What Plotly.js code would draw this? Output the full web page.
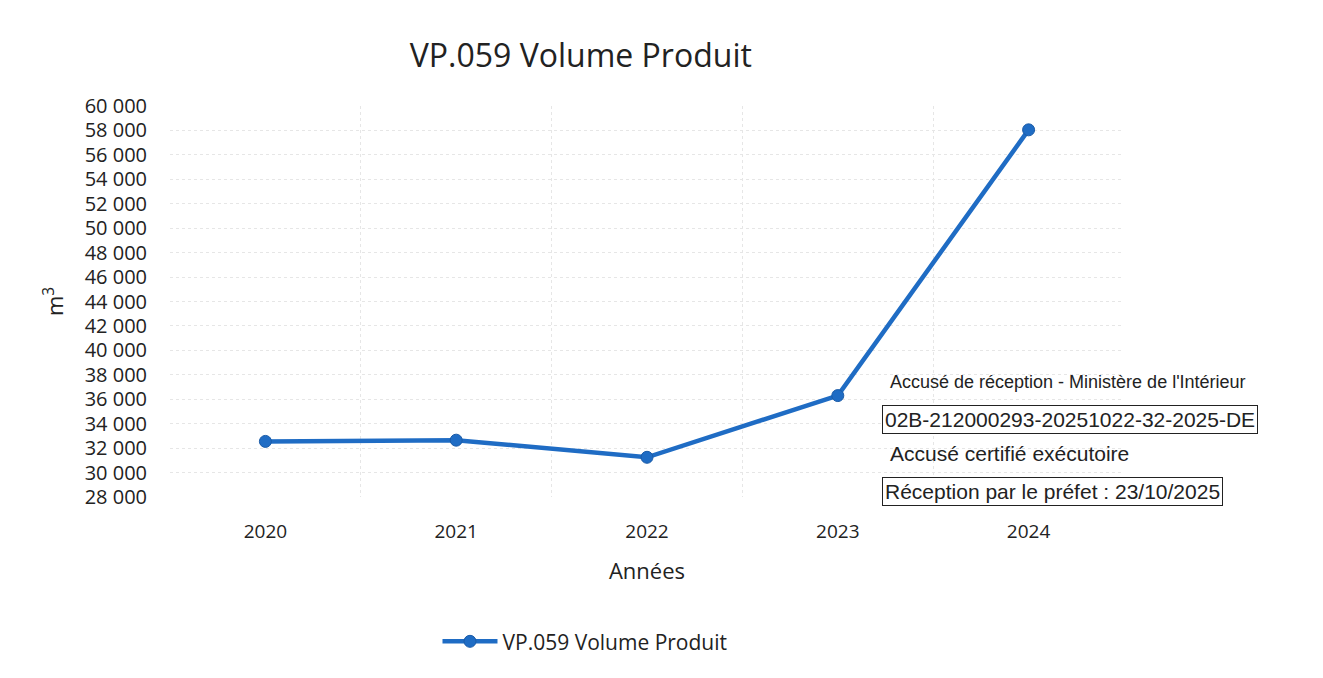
<!DOCTYPE html>
<html>
<head>
<meta charset="utf-8">
<script src="https://cdn.plot.ly/plotly-3.0.1.min.js"></script>
<style>body{margin:0;background:#fff}</style>
</head>
<body>
<div id="myDiv" style="width:1323px;height:678px"></div>
<script>
var years = ['2020', '2021', '2022', '2023', '2024'];
var volume = [32550, 32650, 31250, 36300, 58050];
var seriesName = 'VP.059 Volume Produit';

var blue = '#1f6cc4';

var trace = {
    x: years,
    y: volume,
    type: 'scatter',
    mode: 'lines+markers',
    name: seriesName,
    line: {color: blue, width: 4.5},
    marker: {size: 12, color: blue, line: {color: '#1a5ba8', width: 1}}
};

// the first stamp line is narrower in the scan
var stampSmall = {family: 'Liberation Sans, Arial, sans-serif', size: 18, color: '#222'};
var stampBig = {family: 'Liberation Sans, Arial, sans-serif', size: 21, color: '#222'};

var layout = {
    width: 1323,
    height: 678,
    margin: {l: 170, r: 199, t: 106, b: 181},
    paper_bgcolor: '#fff',
    plot_bgcolor: '#fff',
    separators: ', ',
    font: {family: 'Open Sans, sans-serif', color: '#222'},
    title: {text: 'VP.059 Volume Produit', font: {size: 32, color: '#222'}, x: 0.439, xanchor: 'center', y: 0.918, yanchor: 'middle'},
    xaxis: {
        type: 'category',
        range: [-0.5, 4.5],
        tickson: 'boundaries',
        showgrid: true,
        gridcolor: '#e6e6e6',
        griddash: 'dot',
        zeroline: false,
        showline: false,
        ticks: '',
        ticklabelstandoff: 21,
        tickfont: {size: 19},
        title: {text: 'Années', font: {size: 22}, standoff: 20}
    },
    yaxis: {
        range: [28000, 60000],
        dtick: 2000,
        tickformat: ',',
        showgrid: true,
        gridcolor: '#e6e6e6',
        griddash: 'dot',
        zeroline: false,
        showline: false,
        ticks: 'outside',
        ticklen: 18,
        tickcolor: 'rgba(0,0,0,0)',
        tickfont: {size: 20},
        title: {text: 'm<sup>3</sup>', font: {size: 22}, standoff: 14}
    },
    showlegend: true,
    legend: {
        orientation: 'h',
        x: 0.435, xanchor: 'center',
        y: -0.37, yanchor: 'middle',
        itemwidth: 55,
        font: {size: 21}
    },
    annotations: [
        {text: "Accusé de réception - Ministère de l'Intérieur", xref: 'paper', yref: 'paper', x: 0.753, y: 0.294, xanchor: 'left', yanchor: 'middle', showarrow: false, font: stampSmall},
        {text: '02B-212000293-20251022-32-2025-DE', xref: 'paper', yref: 'paper', x: 0.746, y: 0.197, xanchor: 'left', yanchor: 'middle', showarrow: false, font: stampBig, bordercolor: '#222', borderwidth: 1, borderpad: 2, bgcolor: '#fff'},
        {text: 'Accusé certifié exécutoire', xref: 'paper', yref: 'paper', x: 0.753, y: 0.110, xanchor: 'left', yanchor: 'middle', showarrow: false, font: stampBig},
        {text: 'Réception par le préfet : 23/10/2025', xref: 'paper', yref: 'paper', x: 0.746, y: 0.013, xanchor: 'left', yanchor: 'middle', showarrow: false, font: stampBig, bordercolor: '#222', borderwidth: 1, borderpad: 2, bgcolor: '#fff'}
    ]
};

Plotly.newPlot('myDiv', [trace], layout, {displayModeBar: false});
</script>
</body>
</html>
